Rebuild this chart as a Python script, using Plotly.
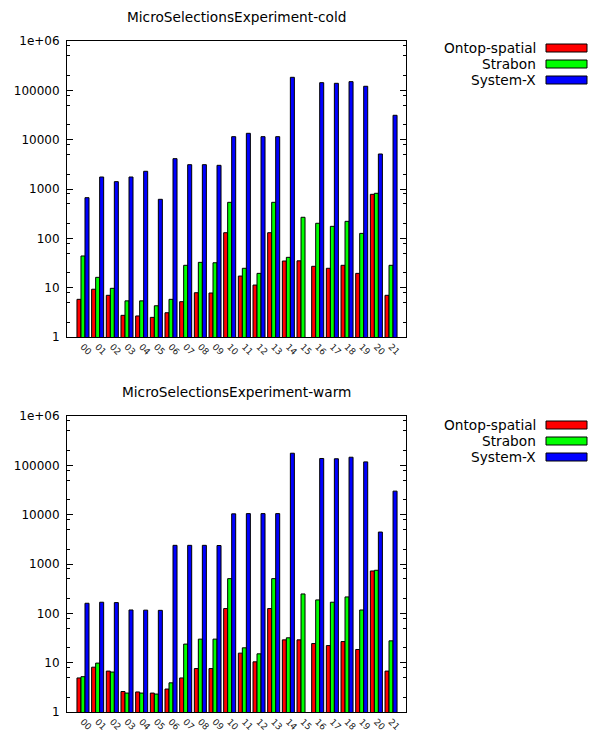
import plotly.graph_objects as go

W, H = 589, 733

categories = ["00", "01", "02", "03", "04", "05", "06", "07", "08", "09", "10",
              "11", "12", "13", "14", "15", "16", "17", "18", "19", "20", "21"]
series_names = ["Ontop-spatial", "Strabon", "System-X"]
series_colors = ["#ff0000", "#00ff00", "#0000ff"]

cold_ontop = [5.8, 9.3, 7.0, 2.75, 2.67, 2.5, 3.1, 5.2, 7.9, 7.8, 130,
              17.2, 11.3, 130, 34.7, 35, 27.1, 24.7, 28.4, 19.5, 780, 7.0]
cold_strabon = [43.9, 16.2, 9.7, 5.4, 5.4, 4.3, 5.8, 28.4, 32.6, 32, 537,
                24.7, 19.5, 537, 41.2, 267, 202, 175, 221, 126, 818, 28.4]
cold_systemx = [667, 1750, 1409, 1750, 2285, 618, 4120, 3112, 3112, 3020, 11500,
                13460, 11500, 11500, 183700, None, 143000, 138800, 150000, 120800, 5125, 31200]

warm_ontop = [4.9, 8.1, 6.75, 2.6, 2.55, 2.42, 2.92, 4.9, 7.6, 7.6, 125,
              15.6, 10.4, 125, 29, 29, 24.4, 22.2, 26.8, 18.5, 722, 6.75]
warm_strabon = [5.2, 9.8, 6.45, 2.42, 2.42, 2.31, 3.9, 23.8, 30, 30, 505,
                20, 15.1, 505, 31.9, 247, 187, 168, 215, 117, 746, 27.7]
warm_systemx = [160, 168, 165, 117, 116, 115, 2390, 2390, 2390, 2370, 10400,
                10500, 10500, 10500, 176000, None, 137600, 136000, 146000, 117500, 4440, 30000]

titles = ["MicroSelectionsExperiment-cold", "MicroSelectionsExperiment-warm"]
ytick_vals = [1, 10, 100, 1000, 10000, 100000, 1000000]
ytick_text = ["1", "10", "100", "1000", "10000", "100000", "1e+06"]
minor_vals = [m * 10 ** e for e in range(0, 6) for m in (2, 5, 8)]

FONT = "DejaVu Sans"

panels = [
    dict(data=[cold_ontop, cold_strabon, cold_systemx], top=41, bottom=337, title_y=17, leg_y=48),
    dict(data=[warm_ontop, warm_strabon, warm_systemx], top=416, bottom=712, title_y=392, leg_y=425),
]

x_left, x_right = 67, 406

fig = go.Figure()
annotations = []
shapes = []
for i, p in enumerate(panels):
    xa = "x" if i == 0 else "x2"
    ya = "y" if i == 0 else "y2"
    for name, color, vals in zip(series_names, series_colors, p["data"]):
        fig.add_trace(go.Bar(
            x=categories, y=vals, name=name, xaxis=xa, yaxis=ya,
            marker=dict(color=color, line=dict(color="black", width=1)),
            showlegend=False,
        ))
    axkey = "" if i == 0 else "2"
    fig.layout["xaxis" + axkey] = dict(
        type="category", domain=[x_left / W, x_right / W], range=[-1.09, 22.02],
        anchor=ya, showline=True, linecolor="black", linewidth=1, mirror=True,
        ticks="", tickangle=45, tickfont=dict(family=FONT, size=9, color="#222"),
        showgrid=False, zeroline=False, automargin=False,
    )
    fig.layout["yaxis" + axkey] = dict(
        type="log", domain=[1 - p["bottom"] / H, 1 - p["top"] / H], range=[0, 6],
        anchor=xa, showline=True, linecolor="black", linewidth=1, mirror="ticks",
        ticks="inside", ticklen=6, tickcolor="black",
        tickmode="array", tickvals=ytick_vals, ticktext=ytick_text,
        tickfont=dict(family=FONT, size=12, color="black"),
        minor=dict(tickmode="array", tickvals=minor_vals, ticks="inside", ticklen=3, tickcolor="black"),
        showgrid=False, zeroline=False, ticklabelstandoff=4, automargin=False,
    )
    annotations.append(dict(
        text=titles[i], xref="paper", yref="paper",
        x=(x_left + x_right) / 2 / W, y=1 - p["title_y"] / H,
        xanchor="center", yanchor="middle", showarrow=False,
        font=dict(family=FONT, size=13.7, color="black"),
    ))
    for k, (name, color) in enumerate(zip(series_names, series_colors)):
        cy = p["leg_y"] + 16 * k
        annotations.append(dict(
            text=name, xref="paper", yref="paper",
            x=538 / W, y=1 - cy / H, xanchor="right", yanchor="middle",
            showarrow=False, font=dict(family=FONT, size=13.7, color="black"),
        ))
        shapes.append(dict(
            type="rect", xref="paper", yref="paper",
            x0=546 / W, x1=587 / W, y0=1 - (cy + 4) / H, y1=1 - (cy - 4) / H,
            fillcolor=color, line=dict(color="black", width=1),
        ))

fig.update_layout(
    width=W, height=H, margin=dict(l=0, r=0, t=0, b=0, autoexpand=False),
    paper_bgcolor="white", plot_bgcolor="white",
    barmode="group", bargap=0.18, bargroupgap=0,
    annotations=annotations, shapes=shapes,
    font=dict(family=FONT, size=12, color="black"),
)

fig.write_html(
    "out.html",
    config={"displayModeBar": False},
    post_script="document.body.style.margin='0';document.body.style.overflow='hidden';",
)
